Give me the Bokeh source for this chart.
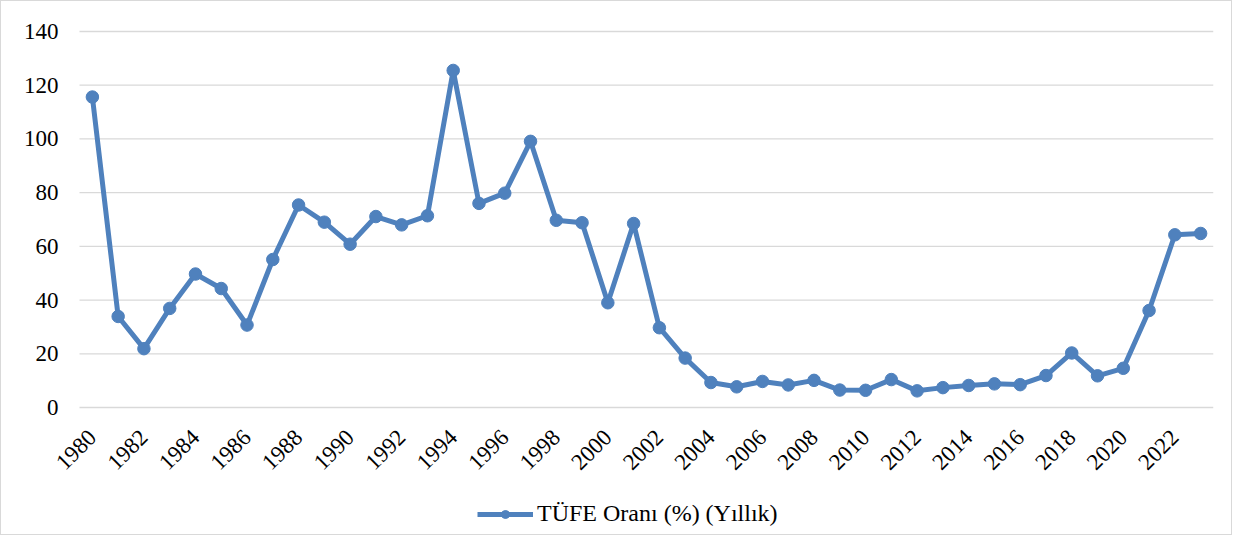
from bokeh.plotting import figure
from bokeh.models import ColumnDataSource, FixedTicker, Range1d, Legend, LegendItem
from bokeh.embed import file_html
from bokeh.resources import INLINE
import math

years = [1980, 1981, 1982, 1983, 1984, 1985, 1986, 1987, 1988, 1989,
         1990, 1991, 1992, 1993, 1994, 1995, 1996, 1997, 1998, 1999,
         2000, 2001, 2002, 2003, 2004, 2005, 2006, 2007, 2008, 2009,
         2010, 2011, 2012, 2013, 2014, 2015, 2016, 2017, 2018, 2019,
         2020, 2021, 2022, 2023]
tufe = [115.6, 33.9, 21.9, 36.9, 49.7, 44.3, 30.7, 55.1, 75.4, 69.0,
        60.8, 71.1, 68.0, 71.4, 125.5, 76.0, 79.8, 99.1, 69.7, 68.8,
        39.0, 68.5, 29.7, 18.4, 9.3, 7.7, 9.7, 8.4, 10.1, 6.5,
        6.4, 10.4, 6.2, 7.4, 8.2, 8.8, 8.5, 11.9, 20.3, 11.8,
        14.6, 36.1, 64.3, 64.8]
tick_years = [1980, 1982, 1984, 1986, 1988, 1990, 1992, 1994, 1996, 1998,
              2000, 2002, 2004, 2006, 2008, 2010, 2012, 2014, 2016, 2018,
              2020, 2022]
y_ticks = [0, 20, 40, 60, 80, 100, 120, 140]
series_name = "TÜFE Oranı (%) (Yıllık)"

FONT = "Liberation Serif"
BLUE = "#4F81BD"
GRID = "#D9D9D9"

# Layout: plot area 78..1212 px wide (44 categories), 30..406 px tall (0..140).
# The frame is stretched to hold the axes' labels and the legend; the axes
# are pinned at the plot area's edges.
X_LO = years[0] - 0.5
X_HI = years[-1] + 0.5
Y_LO, Y_HI = 0, 140
PX_X = (1212 - 78) / (X_HI - X_LO)
PX_Y = (406 - 30) / (Y_HI - Y_LO)
FRAME_L, FRAME_R, FRAME_T, FRAME_B = 5, 1212, 5, 530
x_start = X_HI - (FRAME_R - FRAME_L) / PX_X
y_end = Y_HI + (30 - FRAME_T) / PX_Y
y_start = Y_LO - (FRAME_B - 406) / PX_Y

src = ColumnDataSource(dict(x=years, y=tufe))

p = figure(width=1232, height=535, output_backend="svg", toolbar_location=None,
           x_range=Range1d(x_start, X_HI),
           y_range=Range1d(y_start, y_end),
           min_border_left=FRAME_L, min_border_right=1232 - FRAME_R,
           min_border_top=FRAME_T, min_border_bottom=535 - FRAME_B)
p.background_fill_color = "white"
p.border_fill_color = "white"
p.outline_line_color = None
p.styles = {"border": "1px solid #D9D9D9", "box-sizing": "border-box"}

# horizontal gridlines spanning the category range only
p.segment(x0=[X_LO] * len(y_ticks), x1=[X_HI] * len(y_ticks), y0=y_ticks, y1=y_ticks,
          line_color=GRID, line_width=1.3)

ln = p.line("x", "y", source=src, line_color=BLUE, line_width=5, line_join="round")
sc = p.scatter("x", "y", source=src, size=12.5, fill_color=BLUE, line_color=BLUE)

p.xgrid.grid_line_color = None
p.ygrid.grid_line_color = None
p.yaxis.ticker = FixedTicker(ticks=y_ticks)
p.xaxis.ticker = FixedTicker(ticks=tick_years)

for ax in (p.xaxis[0], p.yaxis[0]):
    ax.axis_line_color = None
    ax.major_tick_line_color = None
    ax.minor_tick_line_color = None
    ax.major_tick_out = 0
    ax.major_tick_in = 0
    ax.major_label_text_font = FONT
    ax.major_label_text_font_size = "23px"
    ax.major_label_text_color = "black"

p.yaxis.fixed_location = X_LO
p.yaxis.major_label_standoff = 21
p.xaxis.fixed_location = Y_LO
p.xaxis.major_label_standoff = 26
p.xaxis.major_label_orientation = math.pi / 4

legend = Legend(items=[LegendItem(label=series_name, renderers=[ln, sc])],
                location=(471, 4), orientation="horizontal",
                label_text_font=FONT, label_text_font_size="24px",
                label_text_color="black",
                glyph_width=56, glyph_height=20, padding=4, spacing=0, margin=0,
                label_standoff=4, border_line_color=None,
                background_fill_alpha=0)
p.add_layout(legend, "center")

open("out.html", "w").write(file_html(p, INLINE))
